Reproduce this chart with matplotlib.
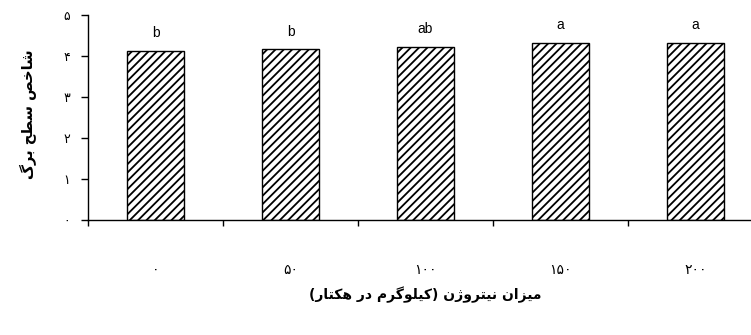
import matplotlib

matplotlib.use("Agg")
import matplotlib.pyplot as plt
import numpy as np

# données
doses = ["۰", "۵۰", "۱۰۰", "۱۵۰", "۲۰۰"]
lai = [4.13, 4.16, 4.23, 4.32, 4.32]
groupes = ["b", "b", "ab", "a", "a"]
yticks = [0, 1, 2, 3, 4, 5]
ytick_labels = ["۰", "۱", "۲", "۳", "۴", "۵"]

ylabel_txt = "شاخص سطح برگ"
xlabel_txt = "میزان نیتروژن (کیلوگرم در هکتار)"

# formes de présentation arabes (isolée, finale, initiale, médiane)
FORMS = {
    "ا": (0xFE8D, 0xFE8E),
    "ب": (0xFE8F, 0xFE90, 0xFE91, 0xFE92),
    "ت": (0xFE95, 0xFE96, 0xFE97, 0xFE98),
    "ح": (0xFEA1, 0xFEA2, 0xFEA3, 0xFEA4),
    "خ": (0xFEA5, 0xFEA6, 0xFEA7, 0xFEA8),
    "د": (0xFEA9, 0xFEAA),
    "ر": (0xFEAD, 0xFEAE),
    "ز": (0xFEAF, 0xFEB0),
    "ژ": (0xFB8A, 0xFB8B),
    "س": (0xFEB1, 0xFEB2, 0xFEB3, 0xFEB4),
    "ش": (0xFEB5, 0xFEB6, 0xFEB7, 0xFEB8),
    "ص": (0xFEB9, 0xFEBA, 0xFEBB, 0xFEBC),
    "ط": (0xFEC1, 0xFEC2, 0xFEC3, 0xFEC4),
    "ل": (0xFEDD, 0xFEDE, 0xFEDF, 0xFEE0),
    "م": (0xFEE1, 0xFEE2, 0xFEE3, 0xFEE4),
    "ن": (0xFEE5, 0xFEE6, 0xFEE7, 0xFEE8),
    "ه": (0xFEE9, 0xFEEA, 0xFEEB, 0xFEEC),
    "و": (0xFEED, 0xFEEE),
    "ک": (0xFB8E, 0xFB8F, 0xFB90, 0xFB91),
    "گ": (0xFB92, 0xFB93, 0xFB94, 0xFB95),
    "ی": (0xFBFC, 0xFBFD, 0xFBFE, 0xFBFF),
}


def faconner(texte):
    # liaison des lettres puis ordre visuel (droite à gauche)
    out = []
    for i, ch in enumerate(texte):
        if ch not in FORMS:
            out.append(ch)
            continue
        prev = texte[i - 1] if i > 0 else ""
        nxt = texte[i + 1] if i + 1 < len(texte) else ""
        join_prev = prev in FORMS and len(FORMS[prev]) == 4
        join_next = nxt in FORMS and len(FORMS[ch]) == 4
        idx = (1 if join_prev else 0) + (2 if join_next else 0)
        out.append(chr(FORMS[ch][idx]))
    visuel = "".join(out)[::-1]
    return visuel.translate(str.maketrans("()", ")("))


plt.rcParams["font.family"] = ["DejaVu Sans"]
plt.rcParams["hatch.linewidth"] = 1.3

fig = plt.figure(figsize=(7.51, 3.35), dpi=100)
ax = fig.add_axes([88 / 751, 115 / 335, 675 / 751, 205 / 335])

x = np.arange(len(doses))
bars = ax.bar(x, lai, width=0.42, color="white", edgecolor="black", hatch="////", linewidth=1.0)

for xi, yi, g in zip(x, lai, groupes):
    ax.annotate(g, (xi, yi), xytext=(0, 10), textcoords="offset points", ha="center", va="baseline",
                fontsize=10, family=["Liberation Sans"])

ax.set_xlim(-0.5, len(doses) - 0.5)
ax.set_ylim(0, 5)

ax.set_xticks(np.arange(-0.5, len(doses), 1.0))
ax.set_xticklabels([])
ax.set_xticks(x, minor=True)
ax.set_xticklabels(doses, minor=True, fontsize=10)
ax.tick_params(axis="x", which="major", direction="out", length=4, width=1)
ax.tick_params(axis="x", which="minor", length=0, pad=31)

ax.set_yticks(yticks)
ax.set_yticklabels(ytick_labels, fontsize=9)
ax.tick_params(axis="y", direction="out", length=5, width=1, pad=8)

for s in ["top", "right"]:
    ax.spines[s].set_visible(False)
for s in ["left", "bottom"]:
    ax.spines[s].set_linewidth(1.0)

fig.text(28 / 751, 1 - 114 / 335, faconner(ylabel_txt), rotation=90, ha="center", va="center",
         fontsize=10.5, fontweight="bold")
fig.text(425 / 751, 1 - 295 / 335, faconner(xlabel_txt), ha="center", va="center",
         fontsize=10, fontweight="bold")

fig.savefig("out.png", dpi=100)
